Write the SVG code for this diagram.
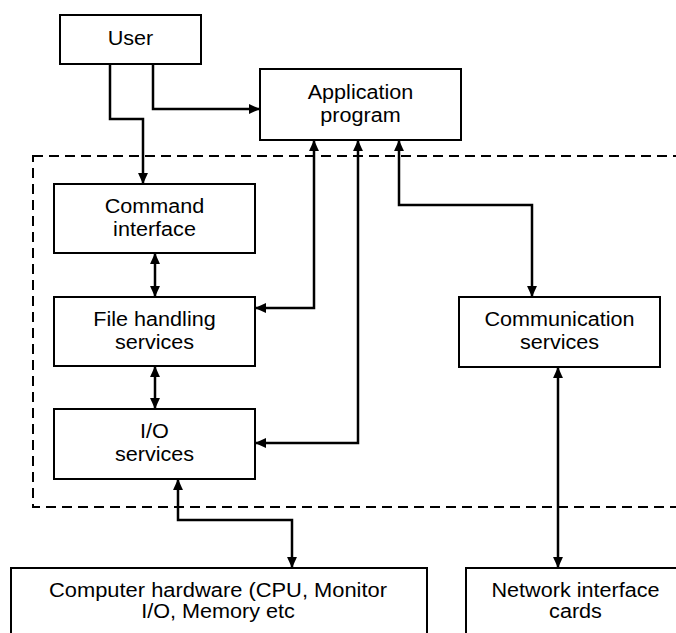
<svg xmlns="http://www.w3.org/2000/svg" width="676" height="633" viewBox="0 0 676 633">
  <defs>
    <style>
      .box { fill: #ffffff; stroke: #000000; stroke-width: 2; }
      .lbl { font-family: "Liberation Sans", Arial, sans-serif; font-size: 20px; fill: #000000; text-anchor: middle; }
      .wire { fill: none; stroke: #000000; stroke-width: 2.5; }
      .boundary { fill: none; stroke: #000000; stroke-width: 2; stroke-dasharray: 10 6; }
    </style>
    <marker id="head" viewBox="0 0 10 10" refX="10" refY="5" markerWidth="11" markerHeight="11" markerUnits="userSpaceOnUse" orient="auto-start-reverse">
      <path d="M0,0.5 L10,5 L0,9.5 Z" fill="#000000"/>
    </marker>
  </defs>

  <!-- operating system boundary -->
  <rect class="boundary" x="33" y="156" width="700" height="351"/>

  <!-- connectors -->
  <g id="connectors">
    <path class="wire" d="M110,64 V119 H143 V184" marker-end="url(#head)"/>
    <path class="wire" d="M153,64 V109 H260" marker-end="url(#head)"/>
    <path class="wire" d="M155,253 V297" marker-start="url(#head)" marker-end="url(#head)"/>
    <path class="wire" d="M155,366 V409" marker-start="url(#head)" marker-end="url(#head)"/>
    <path class="wire" d="M314,140 V308 H255" marker-start="url(#head)" marker-end="url(#head)"/>
    <path class="wire" d="M358,140 V443 H255" marker-start="url(#head)" marker-end="url(#head)"/>
    <path class="wire" d="M399,140 V205 H532 V297" marker-start="url(#head)" marker-end="url(#head)"/>
    <path class="wire" d="M178,479 V520 H292 V568" marker-start="url(#head)" marker-end="url(#head)"/>
    <path class="wire" d="M558,367 V568" marker-start="url(#head)" marker-end="url(#head)"/>
  </g>

  <g id="user">
    <rect class="box" x="60" y="15" width="141" height="49"/>
    <text class="lbl" x="130.5" y="45" textLength="45.6" lengthAdjust="spacingAndGlyphs">User</text>
  </g>

  <g id="application">
    <rect class="box" x="260" y="69" width="201" height="71"/>
    <text class="lbl" x="360.5" y="99" textLength="105.6" lengthAdjust="spacingAndGlyphs">Application</text>
    <text class="lbl" x="360.5" y="122" textLength="80.4" lengthAdjust="spacingAndGlyphs">program</text>
  </g>

  <g id="command">
    <rect class="box" x="54" y="184" width="201" height="69"/>
    <text class="lbl" x="154.5" y="213" textLength="99.6" lengthAdjust="spacingAndGlyphs">Command</text>
    <text class="lbl" x="154.5" y="236" textLength="82.8" lengthAdjust="spacingAndGlyphs">interface</text>
  </g>

  <g id="file-handling">
    <rect class="box" x="54" y="297" width="201" height="69"/>
    <text class="lbl" x="154.5" y="326" textLength="122.4" lengthAdjust="spacingAndGlyphs">File handling</text>
    <text class="lbl" x="154.5" y="349" textLength="79.2" lengthAdjust="spacingAndGlyphs">services</text>
  </g>

  <g id="io">
    <rect class="box" x="54" y="409" width="201" height="70"/>
    <text class="lbl" x="154.5" y="438" textLength="28.8" lengthAdjust="spacingAndGlyphs">I/O</text>
    <text class="lbl" x="154.5" y="461" textLength="79.2" lengthAdjust="spacingAndGlyphs">services</text>
  </g>

  <g id="communication">
    <rect class="box" x="459" y="297" width="201" height="70"/>
    <text class="lbl" x="559.5" y="326" textLength="150" lengthAdjust="spacingAndGlyphs">Communication</text>
    <text class="lbl" x="559.5" y="349" textLength="79.2" lengthAdjust="spacingAndGlyphs">services</text>
  </g>

  <g id="hardware">
    <rect class="box" x="11" y="568" width="416" height="80"/>
    <text class="lbl" x="218" y="597" textLength="338" lengthAdjust="spacingAndGlyphs">Computer hardware (CPU, Monitor</text>
    <text class="lbl" x="218" y="618" textLength="153.6" lengthAdjust="spacingAndGlyphs">I/O, Memory etc</text>
  </g>

  <g id="network">
    <rect class="box" x="466" y="568" width="224" height="80"/>
    <text class="lbl" x="575.5" y="597" textLength="168" lengthAdjust="spacingAndGlyphs">Network interface</text>
    <text class="lbl" x="575.5" y="618" textLength="52.8" lengthAdjust="spacingAndGlyphs">cards</text>
  </g>
</svg>
